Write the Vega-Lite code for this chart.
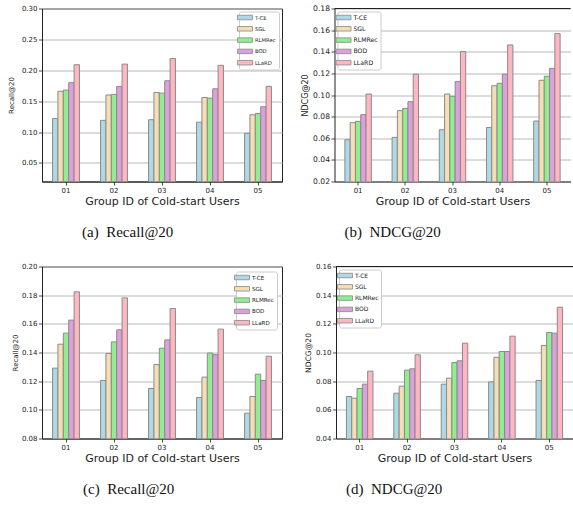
{
  "$schema": "https://vega.github.io/schema/vega-lite/v6.json",
  "background": "white",
  "padding": {"left": 7, "top": 3.5, "right": 0, "bottom": 0},
  "spacing": 21,
  "datasets": {
    "a": [
      {"group": "01", "method": "T-CE", "value": 0.122}, {"group": "01", "method": "SGL", "value": 0.166}, {"group": "01", "method": "RLMRec", "value": 0.168}, {"group": "01", "method": "BOD", "value": 0.180}, {"group": "01", "method": "LLaRD", "value": 0.209},
      {"group": "02", "method": "T-CE", "value": 0.119}, {"group": "02", "method": "SGL", "value": 0.160}, {"group": "02", "method": "RLMRec", "value": 0.161}, {"group": "02", "method": "BOD", "value": 0.174}, {"group": "02", "method": "LLaRD", "value": 0.210},
      {"group": "03", "method": "T-CE", "value": 0.120}, {"group": "03", "method": "SGL", "value": 0.164}, {"group": "03", "method": "RLMRec", "value": 0.163}, {"group": "03", "method": "BOD", "value": 0.183}, {"group": "03", "method": "LLaRD", "value": 0.219},
      {"group": "04", "method": "T-CE", "value": 0.116}, {"group": "04", "method": "SGL", "value": 0.156}, {"group": "04", "method": "RLMRec", "value": 0.155}, {"group": "04", "method": "BOD", "value": 0.170}, {"group": "04", "method": "LLaRD", "value": 0.208},
      {"group": "05", "method": "T-CE", "value": 0.098}, {"group": "05", "method": "SGL", "value": 0.128}, {"group": "05", "method": "RLMRec", "value": 0.130}, {"group": "05", "method": "BOD", "value": 0.141}, {"group": "05", "method": "LLaRD", "value": 0.174}
    ],
    "b": [
      {"group": "01", "method": "T-CE", "value": 0.0586}, {"group": "01", "method": "SGL", "value": 0.0744}, {"group": "01", "method": "RLMRec", "value": 0.0756}, {"group": "01", "method": "BOD", "value": 0.0818}, {"group": "01", "method": "LLaRD", "value": 0.1009},
      {"group": "02", "method": "T-CE", "value": 0.0608}, {"group": "02", "method": "SGL", "value": 0.0855}, {"group": "02", "method": "RLMRec", "value": 0.0876}, {"group": "02", "method": "BOD", "value": 0.0938}, {"group": "02", "method": "LLaRD", "value": 0.1192},
      {"group": "03", "method": "T-CE", "value": 0.0679}, {"group": "03", "method": "SGL", "value": 0.1009}, {"group": "03", "method": "RLMRec", "value": 0.0988}, {"group": "03", "method": "BOD", "value": 0.1124}, {"group": "03", "method": "LLaRD", "value": 0.1402},
      {"group": "04", "method": "T-CE", "value": 0.0700}, {"group": "04", "method": "SGL", "value": 0.1086}, {"group": "04", "method": "RLMRec", "value": 0.1108}, {"group": "04", "method": "BOD", "value": 0.1192}, {"group": "04", "method": "LLaRD", "value": 0.1463},
      {"group": "05", "method": "T-CE", "value": 0.0759}, {"group": "05", "method": "SGL", "value": 0.1136}, {"group": "05", "method": "RLMRec", "value": 0.1173}, {"group": "05", "method": "BOD", "value": 0.1247}, {"group": "05", "method": "LLaRD", "value": 0.1568}
    ],
    "c": [
      {"group": "01", "method": "T-CE", "value": 0.1291}, {"group": "01", "method": "SGL", "value": 0.1458}, {"group": "01", "method": "RLMRec", "value": 0.1535}, {"group": "01", "method": "BOD", "value": 0.1626}, {"group": "01", "method": "LLaRD", "value": 0.1823},
      {"group": "02", "method": "T-CE", "value": 0.1205}, {"group": "02", "method": "SGL", "value": 0.1393}, {"group": "02", "method": "RLMRec", "value": 0.1474}, {"group": "02", "method": "BOD", "value": 0.1558}, {"group": "02", "method": "LLaRD", "value": 0.1781},
      {"group": "03", "method": "T-CE", "value": 0.1149}, {"group": "03", "method": "SGL", "value": 0.1316}, {"group": "03", "method": "RLMRec", "value": 0.1430}, {"group": "03", "method": "BOD", "value": 0.1488}, {"group": "03", "method": "LLaRD", "value": 0.1707},
      {"group": "04", "method": "T-CE", "value": 0.1086}, {"group": "04", "method": "SGL", "value": 0.1228}, {"group": "04", "method": "RLMRec", "value": 0.1396}, {"group": "04", "method": "BOD", "value": 0.1385}, {"group": "04", "method": "LLaRD", "value": 0.1563},
      {"group": "05", "method": "T-CE", "value": 0.0977}, {"group": "05", "method": "SGL", "value": 0.1093}, {"group": "05", "method": "RLMRec", "value": 0.1249}, {"group": "05", "method": "BOD", "value": 0.1205}, {"group": "05", "method": "LLaRD", "value": 0.1374}
    ],
    "d": [
      {"group": "01", "method": "T-CE", "value": 0.0693}, {"group": "01", "method": "SGL", "value": 0.0681}, {"group": "01", "method": "RLMRec", "value": 0.0749}, {"group": "01", "method": "BOD", "value": 0.0779}, {"group": "01", "method": "LLaRD", "value": 0.0870},
      {"group": "02", "method": "T-CE", "value": 0.0716}, {"group": "02", "method": "SGL", "value": 0.0765}, {"group": "02", "method": "RLMRec", "value": 0.0877}, {"group": "02", "method": "BOD", "value": 0.0886}, {"group": "02", "method": "LLaRD", "value": 0.0984},
      {"group": "03", "method": "T-CE", "value": 0.0779}, {"group": "03", "method": "SGL", "value": 0.0821}, {"group": "03", "method": "RLMRec", "value": 0.0930}, {"group": "03", "method": "BOD", "value": 0.0942}, {"group": "03", "method": "LLaRD", "value": 0.1065},
      {"group": "04", "method": "T-CE", "value": 0.0795}, {"group": "04", "method": "SGL", "value": 0.0967}, {"group": "04", "method": "RLMRec", "value": 0.1007}, {"group": "04", "method": "BOD", "value": 0.1007}, {"group": "04", "method": "LLaRD", "value": 0.1114},
      {"group": "05", "method": "T-CE", "value": 0.0805}, {"group": "05", "method": "SGL", "value": 0.1049}, {"group": "05", "method": "RLMRec", "value": 0.1140}, {"group": "05", "method": "BOD", "value": 0.1135}, {"group": "05", "method": "LLaRD", "value": 0.1316}
    ]
  },
  "resolve": {
    "scale": {"x": "independent", "y": "independent", "xOffset": "independent", "color": "independent"},
    "axis": {"x": "independent", "y": "independent"},
    "legend": {"color": "independent"}
  },
  "vconcat": [
    {
      "spacing": 18.5,
      "resolve": {
        "scale": {"x": "independent", "y": "independent", "xOffset": "independent", "color": "independent"},
        "axis": {"x": "independent", "y": "independent"},
        "legend": {"color": "independent"}
      },
      "hconcat": [
        {
          "width": 240, "height": 173,
          "data": {"name": "a"},
          "title": {"text": "(a)\u2002Recall@20", "orient": "bottom", "anchor": "start", "frame": "group", "dx": 40, "offset": 19},
          "mark": {"type": "bar", "stroke": "#8a8a8a", "strokeWidth": 1, "clip": true},
          "encoding": {
            "x": {"field": "group", "type": "nominal", "scale": {"paddingInner": 0.44, "paddingOuter": 0.22}, "axis": {"title": "Group ID of Cold-start Users"}},
            "xOffset": {"field": "method", "type": "nominal", "sort": ["T-CE", "SGL", "RLMRec", "BOD", "LLaRD"], "scale": {"paddingInner": 0, "paddingOuter": 0}},
            "y": {"field": "value", "type": "quantitative", "scale": {"domain": [0.02, 0.30], "nice": false, "zero": false}, "axis": {"title": "Recall@20", "grid": true, "values": [0.05, 0.10, 0.15, 0.20, 0.25, 0.30], "format": ".2f", "titleFontSize": 7, "titlePadding": 6.5}},
            "color": {"field": "method", "type": "nominal", "sort": ["T-CE", "SGL", "RLMRec", "BOD", "LLaRD"], "scale": {"domain": ["T-CE", "SGL", "RLMRec", "BOD", "LLaRD"], "range": ["#add8e6", "#f5deb3", "#90ee90", "#dda0dd", "#ffb6c1"]},
              "legend": {"orient": "top-right", "offset": 3, "labelFontSize": 5.3}}
          }
        },
        {
          "width": 236, "height": 173,
          "view": {"stroke": null},
          "title": {"text": "(b)\u2002NDCG@20", "orient": "bottom", "anchor": "start", "frame": "group", "dx": 10, "offset": 19},
          "layer": [
            {
              "data": {"name": "b"},
              "mark": {"type": "bar", "stroke": "#8a8a8a", "strokeWidth": 1, "clip": true},
              "encoding": {
                "x": {"field": "group", "type": "nominal", "scale": {"paddingInner": 0.44, "paddingOuter": 0.22}, "axis": {"title": "Group ID of Cold-start Users"}},
                "xOffset": {"field": "method", "type": "nominal", "sort": ["T-CE", "SGL", "RLMRec", "BOD", "LLaRD"], "scale": {"paddingInner": 0, "paddingOuter": 0}},
                "y": {"field": "value", "type": "quantitative", "scale": {"domain": [0.02, 0.18], "nice": false, "zero": false}, "axis": {"title": "NDCG@20", "grid": true, "values": [0.02, 0.04, 0.06, 0.08, 0.10, 0.12, 0.14, 0.16, 0.18], "format": ".2f", "titleFontSize": 8, "labelFontSize": 7.6, "titlePadding": 3}},
                "color": {"field": "method", "type": "nominal", "sort": ["T-CE", "SGL", "RLMRec", "BOD", "LLaRD"], "scale": {"domain": ["T-CE", "SGL", "RLMRec", "BOD", "LLaRD"], "range": ["#add8e6", "#f5deb3", "#90ee90", "#dda0dd", "#ffb6c1"]},
                  "legend": {"orient": "top-left", "offset": 3, "labelFontSize": 6.2}}
              }
            },
            {
              "data": {"values": [{"edge": "top"}]},
              "mark": {"type": "rule", "color": "#222222", "strokeWidth": 1},
              "encoding": {"y": {"datum": 0.18, "type": "quantitative", "axis": {"title": "NDCG@20", "grid": true, "values": [0.02, 0.04, 0.06, 0.08, 0.10, 0.12, 0.14, 0.16, 0.18], "format": ".2f", "titleFontSize": 8, "labelFontSize": 7.6, "titlePadding": 3}}}
            }
          ]
        }
      ]
    },
    {
      "spacing": 21,
      "resolve": {
        "scale": {"x": "independent", "y": "independent", "xOffset": "independent", "color": "independent"},
        "axis": {"x": "independent", "y": "independent"},
        "legend": {"color": "independent"}
      },
      "hconcat": [
        {
          "width": 240, "height": 172,
          "data": {"name": "c"},
          "title": {"text": "(c)\u2002Recall@20", "orient": "bottom", "anchor": "start", "frame": "group", "dx": 41, "offset": 19},
          "mark": {"type": "bar", "stroke": "#8a8a8a", "strokeWidth": 1, "clip": true},
          "encoding": {
            "x": {"field": "group", "type": "nominal", "scale": {"paddingInner": 0.44, "paddingOuter": 0.22}, "axis": {"title": "Group ID of Cold-start Users"}},
            "xOffset": {"field": "method", "type": "nominal", "sort": ["T-CE", "SGL", "RLMRec", "BOD", "LLaRD"], "scale": {"paddingInner": 0, "paddingOuter": 0}},
            "y": {"field": "value", "type": "quantitative", "scale": {"domain": [0.08, 0.20], "nice": false, "zero": false}, "axis": {"title": "Recall@20", "grid": true, "values": [0.08, 0.10, 0.12, 0.14, 0.16, 0.18, 0.20], "format": ".2f", "titleFontSize": 7, "titlePadding": 3}},
            "color": {"field": "method", "type": "nominal", "sort": ["T-CE", "SGL", "RLMRec", "BOD", "LLaRD"], "scale": {"domain": ["T-CE", "SGL", "RLMRec", "BOD", "LLaRD"], "range": ["#add8e6", "#f5deb3", "#90ee90", "#dda0dd", "#ffb6c1"]},
              "legend": {"orient": "top-right", "offset": 5, "labelFontSize": 5.6}}
          }
        },
        {
          "width": 237, "height": 172,
          "view": {"stroke": null},
          "title": {"text": "(d)\u2002NDCG@20", "orient": "bottom", "anchor": "start", "frame": "group", "dx": 10, "offset": 19},
          "layer": [
            {
              "data": {"name": "d"},
              "mark": {"type": "bar", "stroke": "#8a8a8a", "strokeWidth": 1, "clip": true},
              "encoding": {
                "x": {"field": "group", "type": "nominal", "scale": {"paddingInner": 0.44, "paddingOuter": 0.22}, "axis": {"title": "Group ID of Cold-start Users"}},
                "xOffset": {"field": "method", "type": "nominal", "sort": ["T-CE", "SGL", "RLMRec", "BOD", "LLaRD"], "scale": {"paddingInner": 0, "paddingOuter": 0}},
                "y": {"field": "value", "type": "quantitative", "scale": {"domain": [0.04, 0.16], "nice": false, "zero": false}, "axis": {"title": "NDCG@20", "grid": true, "values": [0.04, 0.06, 0.08, 0.10, 0.12, 0.14, 0.16], "format": ".2f", "titleFontSize": 7.6, "titlePadding": 3}},
                "color": {"field": "method", "type": "nominal", "sort": ["T-CE", "SGL", "RLMRec", "BOD", "LLaRD"], "scale": {"domain": ["T-CE", "SGL", "RLMRec", "BOD", "LLaRD"], "range": ["#add8e6", "#f5deb3", "#90ee90", "#dda0dd", "#ffb6c1"]},
                  "legend": {"orient": "top-left", "offset": 3, "labelFontSize": 6}}
              }
            },
            {
              "data": {"values": [{"edge": "top"}]},
              "mark": {"type": "rule", "color": "#222222", "strokeWidth": 1},
              "encoding": {"y": {"datum": 0.16, "type": "quantitative", "axis": {"title": "NDCG@20", "grid": true, "values": [0.04, 0.06, 0.08, 0.10, 0.12, 0.14, 0.16], "format": ".2f", "titleFontSize": 7.6, "titlePadding": 3}}}
            }
          ]
        }
      ]
    }
  ],
  "config": {
    "font": "DejaVu Sans",
    "view": {"stroke": "#222222", "strokeWidth": 1},
    "title": {"font": "Liberation Serif", "fontSize": 15, "fontWeight": "normal", "color": "#111111"},
    "axis": {
      "domainColor": "#222222", "domainWidth": 1,
      "tickColor": "#222222", "tickSize": 3.5, "tickWidth": 0.8,
      "labelColor": "#222222", "labelFontSize": 7, "labelPadding": 1.5, "labelOverlap": false, "labelFlush": false,
      "titleColor": "#222222", "titleFont": "DejaVu Sans", "titleFontWeight": "normal",
      "gridColor": "#b8b8b8", "gridWidth": 1
    },
    "axisX": {"labelAngle": 0, "grid": false, "titleFontSize": 11, "titlePadding": 1.5},
    "axisY": {"grid": true},
    "legend": {
      "title": null,
      "fillColor": "white", "strokeColor": "#cccccc", "cornerRadius": 2, "padding": 2.5,
      "labelFont": "DejaVu Sans", "labelColor": "#222222", "labelOffset": 6.4,
      "symbolType": "M-2.5,-0.75H2.5V0.75H-2.5Z", "symbolSize": 36,
      "symbolStrokeColor": "#888888", "symbolStrokeWidth": 0.8, "symbolOpacity": 1,
      "rowPadding": 2.3
    }
  }
}
